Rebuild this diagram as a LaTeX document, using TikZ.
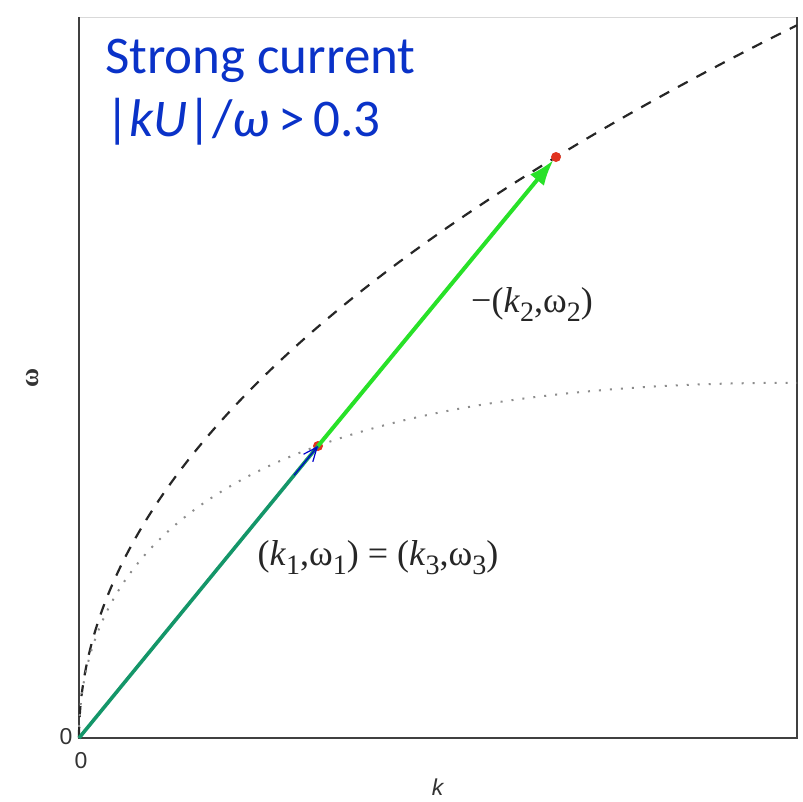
\documentclass[tikz,border=0pt]{standalone}
\usepackage{fontspec}
\usepackage{graphicx}
\setmainfont{Liberation Serif}
\newfontfamily\calib{Carlito}
\newfontfamily\dsans{Liberation Sans}
\usetikzlibrary{arrows.meta,calc}
\definecolor{titleblue}{RGB}{10,50,200}
\definecolor{tealline}{RGB}{20,150,105}
\definecolor{brightgreen}{RGB}{40,225,40}
\definecolor{dotred}{RGB}{225,50,30}
\newcommand{\lsub}[1]{\raisebox{-0.55ex}{\scalebox{0.78}{#1}}}
\tikzset{
  frameline/.style={draw=black!75,line width=2.4pt},
  dashcurve/.style={draw=black!85,line width=2.2pt,dash pattern=on 11pt off 10pt},
  dotcurve/.style={draw=black!45,line width=2pt,dash pattern=on 2pt off 9pt},
  reddot/.style={circle,fill=dotred,minimum size=10pt,inner sep=0pt},
  tealarrow/.style={draw=tealline,line width=3.6pt},
  bluehead/.style={draw=blue!80!black,line width=1.2pt,-{Straight Barb[length=14pt,width=12pt]}},
  greenarrow/.style={draw=brightgreen,line width=4pt,-{Latex[length=26pt,width=18pt]}},
  lab/.style={font=\fontsize{36}{40}\selectfont,inner sep=0pt,text=black!85},
  ticklab/.style={font=\dsans\fontsize{23}{25}\selectfont,text=black!80,inner sep=0pt},
  titlelab/.style={anchor=base west,inner sep=0pt,text=titleblue,font=\calib\fontsize{53}{56}\selectfont},
}
\begin{document}
\begin{tikzpicture}[x=1pt,y=-1pt]
\useasboundingbox (0,0) rectangle (803,801);
% frame
\draw[draw=black!15,line width=1pt] (79,17) -- (797,17);
\draw[frameline] (79,17) -- (79,738) -- (797,738) -- (797,17);
% curves
\draw[dashcurve] plot[domain=0:26.8,samples=200,variable=\t] ({79+\t*\t},{738-26.6*\t});
\draw[dotcurve] plot[domain=0:26.8,samples=200,variable=\t] ({79+\t*\t},{738-26.6*\t+0.498*\t*\t});
% points
\coordinate (o) at (79,738);
\node[reddot] (p1) at (318,446) {};
\node[reddot] (p2) at (556,157) {};
% vectors
\draw[tealarrow] (o) -- (p1.center);
\draw[bluehead] ($(o)!0.9!(p1.center)$) -- (p1.center);
\draw[greenarrow] (p1.center) -- ($(p1.center)!0.99!(p2.center)$);
% labels
\node[lab,anchor=base] (l1) at (378,565) {(\textit{k}\lsub{1},ω\lsub{1}) = (\textit{k}\lsub{3},ω\lsub{3})};
\node[lab,anchor=base] (l2) at (532,312) {−(\textit{k}\lsub{2},ω\lsub{2})};
% axis labels
\node[ticklab,rotate=90,font=\fontsize{26}{28}\selectfont\bfseries] (wl) at (33,378) {ω};
\node[ticklab] (kl) at (438,787) {\textit{k}};
\node[ticklab] (z1) at (66,737) {0};
\node[ticklab] (z2) at (81,761) {0};
% title
\node[titlelab] (t1) at (105,73) {Strong current};
\node[titlelab] (t2) at (105,136) {|\textit{kU}|/\textit{ω}\,>\,0.3};
\end{tikzpicture}
\end{document}
